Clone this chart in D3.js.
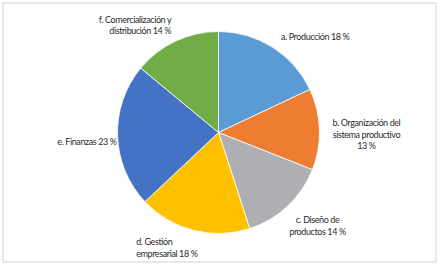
<!DOCTYPE html>
<html>
<head>
<meta charset="utf-8">
<script src="https://cdn.jsdelivr.net/npm/d3@7"></script>
<style>
  html, body { margin: 0; padding: 0; background: #fff; }
  svg { display: block; }
  .lbl { font-family: Lato, "Open Sans", sans-serif; font-size: 9px; letter-spacing: -0.4px; fill: #2b2b2b; }
</style>
</head>
<body>
<svg id="chart"></svg>
<script>
// data
const categories = ["a. Producción", "b. Organización del sistema productivo", "c. Diseño de productos",
                    "d. Gestión empresarial", "e. Finanzas", "f. Comercialización y distribución"];
const shares = [18, 13, 14, 18, 23, 14];
const labelLines = [
  ["a. Producción 18 %"],
  ["b. Organización del", "sistema productivo", "13 %"],
  ["c. Diseño de", "productos 14 %"],
  ["d. Gestión", "empresarial 18 %"],
  ["e. Finanzas 23 %"],
  ["f. Comercialización y", "distribución 14 %"]
];
const colors = ["#5b9bd5", "#ed7d31", "#aeafb2", "#ffc000", "#4472c4", "#70ad47"];

// label placement, relative to a point just outside each slice
const labelAnchor = ["middle", "middle", "middle", "start", "end", "end"];
const labelNudge = [[27, 17], [18, -2], [10, -4], [-50, -13], [28, 8], [8, 8]];

const W = 442, H = 267;
const cx = 218.5, cy = 132.5, r = 101;

const svg = d3.select("#chart").attr("width", W).attr("height", H);

svg.append("rect")
  .attr("x", 3).attr("y", 3)
  .attr("width", 433).attr("height", 259)
  .attr("fill", "#fff")
  .attr("stroke", "#d9d9d9")
  .attr("stroke-width", 1.2);

const pie = d3.pie().sort(null).value(d => d)(shares);
const arc = d3.arc().innerRadius(0).outerRadius(r);
const labelArc = d3.arc().innerRadius(130).outerRadius(130);

const g = svg.append("g").attr("transform", `translate(${cx},${cy})`);

g.selectAll("path.slice")
  .data(pie)
  .join("path")
  .attr("class", "slice")
  .attr("d", arc)
  .attr("fill", (d, i) => colors[i])
  .attr("stroke", "#fff")
  .attr("stroke-width", 0.8);

const lineH = 11.3;
g.selectAll("text.lbl")
  .data(pie)
  .join("text")
  .attr("class", "lbl")
  .attr("text-anchor", (d, i) => labelAnchor[i])
  .attr("transform", (d, i) => {
    const [x, y] = labelArc.centroid(d);
    return `translate(${x + labelNudge[i][0]},${y + labelNudge[i][1]})`;
  })
  .each(function(d, i) {
    d3.select(this).selectAll("tspan")
      .data(labelLines[i])
      .join("tspan")
      .attr("x", 0)
      .attr("y", (t, j) => j * lineH)
      .text(t => t);
  });
</script>
</body>
</html>
